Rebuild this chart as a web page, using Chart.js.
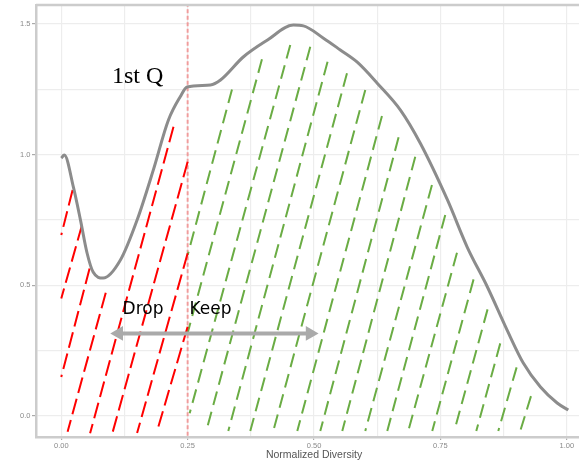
<!DOCTYPE html>
<html><head><meta charset="utf-8">
<script src="https://cdn.jsdelivr.net/npm/chart.js@4.4.1/dist/chart.umd.min.js"></script>
<style>html,body{margin:0;padding:0;overflow:hidden;background:#fff}#wrap{width:579px;height:462px}</style>
</head><body><div id="wrap"><canvas id="c" width="579" height="462"></canvas></div>
<script>
// ---- data ----
const xTicks = [0, 0.25, 0.5, 0.75, 1.0];
const xTickLabels = ['0.00', '0.25', '0.50', '0.75', '1.00'];
const yTicks = [0, 0.5, 1.0, 1.5];
const yTickLabels = ['0.0', '0.5', '1.0', '1.5'];
const xTitle = 'Normalized Diversity';

const curveX = [0, 0.006, 0.024, 0.038, 0.051, 0.063, 0.083, 0.117, 0.150, 0.182, 0.212, 0.235, 0.249, 0.295, 0.315, 0.360, 0.408, 0.459, 0.479, 0.518, 0.552, 0.585, 0.625, 0.671, 0.710, 0.764, 0.803, 0.843, 0.882, 0.914, 0.948, 0.981, 1.003];
const curveY = [0.987, 0.999, 0.876, 0.750, 0.624, 0.551, 0.528, 0.597, 0.750, 0.941, 1.133, 1.221, 1.259, 1.267, 1.286, 1.374, 1.439, 1.496, 1.493, 1.447, 1.401, 1.355, 1.274, 1.171, 1.045, 0.827, 0.647, 0.494, 0.329, 0.203, 0.111, 0.050, 0.023];

const quartileX = 0.25;

// "Drop" hatch segments (top end -> bottom end)
const dropTopX = [0.0224, 0.041, 0.056, 0.088, 0.222, 0.25, 0.25, 0.25];
const dropTopY = [0.865, 0.731, 0.565, 0.472, 1.107, 0.973, 0.623, 0.342];
const dropBotX = [0, 0, 0, 0.0125, 0.057, 0.101, 0.150, 0.192];
const dropBotY = [0.693, 0.450, 0.150, -0.060, -0.066, -0.066, -0.065, -0.041];

// "Keep" hatch segments (top end -> bottom end)
const keepTopX = [0.3377, 0.397, 0.453, 0.4926, 0.5268, 0.5652, 0.6014, 0.6344, 0.6673, 0.7003, 0.7333, 0.7596, 0.7828, 0.8156, 0.8433, 0.8684, 0.9008, 0.9292];
const keepTopY = [1.250, 1.365, 1.420, 1.413, 1.356, 1.3115, 1.2476, 1.148, 1.0666, 0.9923, 0.884, 0.7692, 0.625, 0.5231, 0.4083, 0.2782, 0.1864, 0.0765];
const keepBotX = [0.25, 0.25, 0.254, 0.2868, 0.3304, 0.3739, 0.4194, 0.4669, 0.5124, 0.5559, 0.6014, 0.6449, 0.6865, 0.7339, 0.7774, 0.8210, 0.8645, 0.9080];
const keepBotY = [0.616, 0.318, 0.011, -0.057, -0.057, -0.057, -0.057, -0.057, -0.057, -0.057, -0.057, -0.057, -0.057, -0.057, -0.057, -0.057, -0.057, -0.057];

const arrowX = [0.1137, 0.4922];
const arrowY = [0.3165, 0.3165];

const labelText = ['1st Q', 'Drop', 'Keep'];
const labelX = [0.1003, 0.1213, 0.2538];
const labelY = [1.273, 0.390, 0.390];

// ---- styles ----
const labelFonts = ['24px "Liberation Serif"', '17px "DejaVu Sans"', '17px "DejaVu Sans"'];
const GRID = '#ededed';
const BORDER = '#cccccc';

const mids = a => a.slice(0, -1).map((v, i) => (v + a[i + 1]) / 2);
const xGrid = [...xTicks, ...mids(xTicks)].sort((a, b) => a - b);
const yGrid = [...yTicks, ...mids(yTicks)].sort((a, b) => a - b);

const seg = (ax, ay, bx, by) => [{x: ax, y: ay}, {x: bx, y: by}];

const datasets = [];
datasets.push({
  data: curveX.map((x, i) => ({x, y: curveY[i]})),
  borderColor: '#8c8c8c', borderWidth: 3, cubicInterpolationMode: 'monotone',
  pointRadius: 0, showLine: true
});
datasets.push({
  data: arrowX.map((x, i) => ({x, y: arrowY[i]})),
  borderColor: '#aaaaaa', borderWidth: 4, showLine: true,
  pointStyle: 'triangle', pointRadius: 8.5, pointBackgroundColor: '#aaaaaa', pointBorderColor: '#aaaaaa',
  pointBorderWidth: 0, pointRotation: [-90, 90]
});
dropTopX.forEach((_, i) => datasets.push({
  data: seg(dropTopX[i], dropTopY[i], dropBotX[i], dropBotY[i]),
  borderColor: '#ff0000', borderWidth: 2, borderDash: [16, 6], pointRadius: 0, showLine: true
}));
keepTopX.forEach((_, i) => datasets.push({
  data: seg(keepTopX[i], keepTopY[i], keepBotX[i], keepBotY[i]),
  borderColor: '#6aac44', borderWidth: 2, borderDash: [14, 7], pointRadius: 0, showLine: true
}));
datasets.push({
  data: seg(quartileX, -0.2, quartileX, 1.7),
  borderColor: 'rgba(240,90,90,0.55)', borderWidth: 2, borderDash: [4, 2.5], pointRadius: 0, showLine: true
});

const annot = {
  id: 'annot',
  afterDatasetsDraw(chart) {
    const {ctx, chartArea, scales: {x, y}} = chart;
    ctx.save();
    ctx.strokeStyle = BORDER; ctx.lineWidth = 2.5;
    ctx.beginPath(); ctx.moveTo(chartArea.left, chartArea.top); ctx.lineTo(chartArea.right, chartArea.top); ctx.stroke();
    labelText.forEach((t, i) => {
      ctx.font = labelFonts[i]; ctx.fillStyle = '#000';
      ctx.textAlign = 'left'; ctx.textBaseline = 'alphabetic';
      ctx.fillText(t, x.getPixelForValue(labelX[i]), y.getPixelForValue(labelY[i]));
    });
    ctx.font = '10.5px "Liberation Sans"'; ctx.fillStyle = '#555';
    ctx.textAlign = 'center'; ctx.textBaseline = 'middle';
    ctx.fillText(xTitle, x.getPixelForValue(0.5), x.bottom - 6.5);
    ctx.restore();
  }
};

new Chart(document.getElementById('c'), {
  type: 'scatter',
  data: {datasets},
  plugins: [annot],
  options: {
    responsive: false, animation: false, events: [],
    layout: {autoPadding: false, padding: {top: 5, left: 0, right: 0, bottom: 0}},
    plugins: {legend: {display: false}, tooltip: {enabled: false}},
    scales: {
      x: {
        type: 'linear', min: -0.05, max: 1.0242,
        afterBuildTicks: s => { s.ticks = xGrid.map(v => ({value: v})); },
        afterFit: s => { s.height = 25; s.paddingLeft = 0; s.paddingRight = 0; },
        grid: {color: GRID, lineWidth: 1.2, tickLength: 3,
          tickColor: c => (c.tick && xTicks.includes(c.tick.value)) ? '#aaaaaa' : 'rgba(0,0,0,0)'},
        border: {display: true, color: BORDER, width: 2.5},
        ticks: {autoSkip: false, maxRotation: 0, padding: 1.5, color: '#8a8a8a',
          font: {family: '"Liberation Sans"', size: 7.5},
          callback: v => { const i = xTicks.indexOf(v); return i >= 0 ? xTickLabels[i] : ''; }},
        title: {display: false}
      },
      y: {
        type: 'linear', min: -0.08, max: 1.573,
        afterBuildTicks: s => { s.ticks = yGrid.map(v => ({value: v})); },
        afterFit: s => { s.width = 36; s.paddingTop = 0; s.paddingBottom = 0; },
        grid: {color: GRID, lineWidth: 1.2, tickLength: 4,
          tickColor: c => (c.tick && yTicks.includes(c.tick.value)) ? '#aaaaaa' : 'rgba(0,0,0,0)'},
        border: {display: true, color: BORDER, width: 2.5},
        ticks: {autoSkip: false, padding: 1.5, color: '#8a8a8a',
          font: {family: '"Liberation Sans"', size: 7.5},
          callback: v => { const i = yTicks.indexOf(v); return i >= 0 ? yTickLabels[i] : ''; }}
      }
    }
  }
});
</script></body></html>
